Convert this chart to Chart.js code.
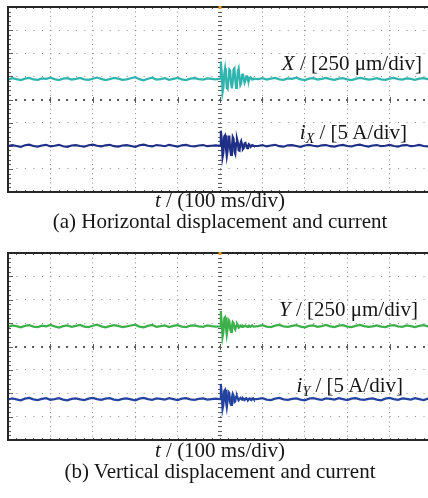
<!DOCTYPE html>
<html><head>
<meta charset="UTF-8">
<title>Horizontal and vertical displacement and current</title>
<script src="https://cdn.jsdelivr.net/npm/chart.js"></script>
<style>
body {
  margin: 0;
  background: #ffffff;
  width: 428px;
  height: 498px;
  overflow: hidden;
  position: relative;
  font-family: "Liberation Serif", "Times New Roman", serif;
  color: #161616;
}

.panel {
  position: absolute;
  left: 0;
  width: 436px;
  height: 200px;
}

.lbl {
  position: absolute;
  font-size: 21px;
  line-height: 20px;
  white-space: nowrap;
}

.axis, .caption {
  position: absolute;
  left: 0;
  width: 440px;
  text-align: center;
  font-size: 21px;
  line-height: 22px;
  white-space: nowrap;
}

sub {
  font-size: 14px;
  line-height: 0;
  vertical-align: -4px;
}
</style>
</head>
<body>

<div class="panel" style="top:0"><canvas id="chartA"></canvas></div>
<div class="lbl" style="right:6px; top:53px"><i>X</i> / [250 μm/div]</div>
<div class="lbl" style="right:21px; top:122px"><i>i</i><sub><i>X</i></sub> / [5 A/div]</div>
<div class="axis" style="top:189px"><i>t</i> / (100 ms/div)</div>
<div class="caption" style="top:210px">(a) Horizontal displacement and current</div>

<div class="panel" style="top:246px"><canvas id="chartB"></canvas></div>
<div class="lbl" style="right:10px; top:299px"><i>Y</i> / [250 μm/div]</div>
<div class="lbl" style="right:25px; top:375px"><i>i</i><sub><i>Y</i></sub> / [5 A/div]</div>
<div class="axis" style="top:439px"><i>t</i> / (100 ms/div)</div>
<div class="caption" style="top:460px">(b) Vertical displacement and current</div>

<script>
// time axis: 10 div x 100 ms, trigger at 500 ms
// values are screen positions in divisions (8 div tall, 0 = centre)
const beforeStepMs = 10;   // 0 .. 490 ms
const burstStartMs = 500;  // 500 .. 580 ms
const burstStepMs = 2;
const afterStartMs = 590;  // 590 .. 1000 ms
const afterStepMs = 10;

// (a) horizontal displacement X
const xBefore = [
  0.86, 0.92, 0.88, 0.84, 0.90, 0.93, 0.87, 0.85, 0.91, 0.89,
  0.94, 0.88, 0.84, 0.90, 0.92, 0.86, 0.89, 0.93, 0.87, 0.85,
  0.90, 0.95, 0.89, 0.84, 0.88, 0.93, 0.90, 0.85, 0.87, 0.92,
  0.97, 0.88, 0.83, 0.90, 0.94, 0.86, 0.88, 0.92, 0.85, 0.89,
  0.93, 0.87, 0.84, 0.90, 0.92, 0.88, 0.86, 0.91, 0.89, 0.87
];
const xBurst = [
  0.90, 1.64, 1.20, 0.30, 0.50, 1.10, 1.35, 1.00, 0.50, 0.45,
  0.90, 1.30, 1.25, 0.70, 0.48, 0.75, 1.30, 1.35, 0.85, 0.50,
  0.70, 1.20, 1.33, 0.95, 0.62, 0.70, 1.05, 1.12, 0.90, 0.72,
  0.82, 1.00, 1.00, 0.85, 0.80, 0.90, 0.96, 0.92, 0.86, 0.88,
  0.90
];
const xAfter = [
  0.88, 0.92, 0.86, 0.90, 0.93, 0.87, 0.85, 0.91, 0.89, 0.94,
  0.87, 0.84, 0.90, 0.92, 0.86, 0.89, 0.93, 0.88, 0.85, 0.90,
  0.92, 0.87, 0.84, 0.89, 0.93, 0.90, 0.86, 0.88, 0.92, 0.87,
  0.85, 0.90, 0.93, 0.88, 0.86, 0.91, 0.89, 0.85, 0.90, 0.92,
  0.88, 0.87
];

// (a) horizontal current iX
const ixBefore = [
  -2.02, -1.97, -2.01, -2.05, -1.98, -1.95, -2.01, -2.04, -1.99, -1.96,
  -2.03, -2.00, -1.96, -2.02, -2.05, -1.99, -1.97, -2.01, -2.04, -1.98,
  -1.95, -2.00, -2.03, -1.98, -1.96, -2.02, -2.04, -1.99, -1.97, -2.01,
  -2.05, -1.98, -1.95, -2.00, -2.03, -1.97, -1.99, -2.02, -1.96, -2.00,
  -2.04, -1.98, -1.96, -2.01, -2.03, -1.99, -1.97, -2.02, -2.00, -1.98
];
const ixBurst = [
  -2.00, -1.35, -1.70, -2.50, -2.30, -1.60, -1.55, -2.10, -2.45, -2.20,
  -1.60, -1.60, -2.15, -2.40, -2.10, -1.62, -1.70, -2.25, -2.35, -1.90,
  -1.70, -1.85, -2.20, -2.22, -1.90, -1.80, -1.95, -2.15, -2.10, -1.90,
  -1.88, -2.02, -2.10, -2.00, -1.93, -1.97, -2.05, -2.02, -1.97, -1.99,
  -2.01
];
const ixAfter = [
  -2.01, -1.97, -2.03, -1.99, -1.96, -2.02, -2.04, -1.98, -1.97, -2.01,
  -2.05, -1.99, -1.96, -2.00, -2.03, -1.98, -1.97, -2.02, -2.04, -1.99,
  -1.96, -2.01, -2.03, -1.98, -1.95, -2.00, -2.04, -1.99, -1.97, -2.02,
  -2.00, -1.96, -2.01, -2.04, -1.98, -1.97, -2.02, -2.00, -1.96, -2.01,
  -2.03, -1.99
];

// (b) vertical displacement Y
const yBefore = [
  0.84, 0.90, 0.87, 0.82, 0.88, 0.91, 0.85, 0.83, 0.89, 0.86,
  0.92, 0.86, 0.81, 0.87, 0.90, 0.84, 0.88, 0.92, 0.85, 0.83,
  0.89, 0.93, 0.86, 0.82, 0.87, 0.91, 0.88, 0.83, 0.86, 0.90,
  0.93, 0.85, 0.82, 0.88, 0.92, 0.84, 0.87, 0.90, 0.83, 0.88,
  0.91, 0.85, 0.83, 0.89, 0.90, 0.86, 0.84, 0.90, 0.87, 0.85
];
const yBurst = [
  0.86, 1.52, 1.00, 0.40, 0.60, 1.20, 1.25, 0.80, 0.50, 0.75,
  1.15, 1.10, 0.75, 0.62, 0.85, 1.05, 1.00, 0.78, 0.72, 0.88,
  0.98, 0.92, 0.80, 0.82, 0.90, 0.88, 0.84, 0.88, 0.85, 0.87,
  0.90, 0.86, 0.84, 0.87, 0.89, 0.86, 0.84, 0.88, 0.90, 0.86,
  0.85
];
const yAfter = [
  0.87, 0.91, 0.85, 0.83, 0.89, 0.92, 0.86, 0.84, 0.88, 0.91,
  0.85, 0.82, 0.88, 0.90, 0.84, 0.87, 0.92, 0.86, 0.83, 0.89,
  0.91, 0.85, 0.83, 0.88, 0.92, 0.87, 0.84, 0.86, 0.90, 0.85,
  0.83, 0.89, 0.91, 0.86, 0.84, 0.90, 0.87, 0.83, 0.88, 0.91,
  0.86, 0.85
];

// (b) vertical current iY
const iyBefore = [
  -2.27, -2.22, -2.26, -2.30, -2.23, -2.20, -2.26, -2.29, -2.24, -2.21,
  -2.28, -2.25, -2.21, -2.27, -2.30, -2.24, -2.22, -2.26, -2.29, -2.23,
  -2.20, -2.25, -2.28, -2.23, -2.21, -2.27, -2.29, -2.24, -2.22, -2.26,
  -2.30, -2.23, -2.20, -2.25, -2.28, -2.22, -2.24, -2.27, -2.21, -2.25,
  -2.29, -2.23, -2.21, -2.26, -2.28, -2.24, -2.22, -2.27, -2.25, -2.23
];
const iyBurst = [
  -2.25, -1.60, -2.00, -2.68, -2.50, -1.90, -1.85, -2.35, -2.60, -2.30,
  -1.95, -2.00, -2.40, -2.50, -2.20, -2.02, -2.10, -2.38, -2.35, -2.15,
  -2.12, -2.22, -2.30, -2.25, -2.20, -2.24, -2.27, -2.22, -2.26, -2.29,
  -2.23, -2.21, -2.26, -2.28, -2.24, -2.22, -2.27, -2.29, -2.23, -2.21,
  -2.26
];
const iyAfter = [
  -2.24, -2.21, -2.27, -2.29, -2.23, -2.20, -2.26, -2.28, -2.24, -2.22,
  -2.27, -2.30, -2.23, -2.21, -2.25, -2.28, -2.22, -2.24, -2.27, -2.21,
  -2.25, -2.29, -2.23, -2.21, -2.26, -2.28, -2.24, -2.22, -2.27, -2.30,
  -2.23, -2.20, -2.25, -2.28, -2.22, -2.24, -2.27, -2.21, -2.25, -2.29,
  -2.23, -2.26
];

function toPoints(before, burst, after) {
  const pts = [];
  before.forEach((v, i) => pts.push({ x: i * beforeStepMs, y: v }));
  burst.forEach((v, i) => pts.push({ x: burstStartMs + i * burstStepMs, y: v }));
  after.forEach((v, i) => pts.push({ x: afterStartMs + i * afterStepMs, y: v }));
  return pts;
}

// scope decorations: minor ticks, centre cross, frame, trigger mark
const scopeFrame = {
  id: 'scopeFrame',
  beforeDatasetsDraw(chart) {
    const { ctx, chartArea: a, scales: { x, y } } = chart;
    const cx = Math.round(x.getPixelForValue(500));
    const cy = Math.round(y.getPixelForValue(0));
    ctx.save();
    ctx.fillStyle = '#5c5c5c';
    for (let k = 0; k <= 40; k++) {
      const py = Math.round(y.getPixelForValue(-4 + k * 0.2));
      const len = k % 5 === 0 ? 5 : 3;
      ctx.fillRect(a.left, py, len, 1);
      ctx.fillRect(cx - 2, py, 4, 1);
    }
    for (let k = 0; k <= 50; k++) {
      const px = Math.round(x.getPixelForValue(k * 20));
      ctx.fillRect(px - 1, cy - 1, 2, 2);
      if (k % 5 === 0) ctx.fillRect(px, cy - 3, 1, 6);
      ctx.fillRect(px, a.top, 1, 2);
      ctx.fillRect(px, a.bottom - 2, 1, 2);
    }
    ctx.restore();
  },
  afterDraw(chart) {
    const { ctx, chartArea: a, scales: { x } } = chart;
    ctx.save();
    ctx.strokeStyle = '#262626';
    ctx.lineWidth = 2;
    ctx.strokeRect(a.left, a.top, a.right - a.left, a.bottom - a.top);
    ctx.fillStyle = '#f09a28';
    ctx.fillRect(x.getPixelForValue(500) - 1.5, a.top - 1, 3, 3);
    ctx.restore();
  }
};

function makeScope(id, traces, pad, vDash, hDash) {
  return new Chart(document.getElementById(id), {
    type: 'line',
    data: {
      datasets: traces.map(t => ({
        data: t.points,
        borderColor: t.color,
        borderWidth: 2.2,
        pointRadius: 0,
        tension: 0,
        fill: false
      }))
    },
    options: {
      responsive: true,
      maintainAspectRatio: false,
      animation: false,
      layout: { padding: pad },
      plugins: { legend: { display: false }, tooltip: { enabled: false } },
      scales: {
        x: {
          type: 'linear', min: 0, max: 1000,
          ticks: { display: false, stepSize: 100 },
          grid: { color: '#8a8a8a', lineWidth: 1, drawTicks: false },
          border: { display: false, dash: vDash }
        },
        y: {
          type: 'linear', min: -4, max: 4,
          ticks: { display: false, stepSize: 1 },
          grid: { color: '#8a8a8a', lineWidth: 1, drawTicks: false },
          border: { display: false, dash: hDash }
        }
      }
    },
    plugins: [scopeFrame]
  });
}

makeScope('chartA', [
  { points: toPoints(xBefore, xBurst, xAfter), color: '#2fb4ae' },
  { points: toPoints(ixBefore, ixBurst, ixAfter), color: '#1f2e86' }
], { left: 8, top: 7, right: 4, bottom: 8 }, [1, 3.62], [1, 7.48]);

makeScope('chartB', [
  { points: toPoints(yBefore, yBurst, yAfter), color: '#3cb04a' },
  { points: toPoints(iyBefore, iyBurst, iyAfter), color: '#2443a0' }
], { left: 8, top: 7, right: 4, bottom: 6 }, [1, 3.68], [1, 7.48]);
</script>

</body></html>
